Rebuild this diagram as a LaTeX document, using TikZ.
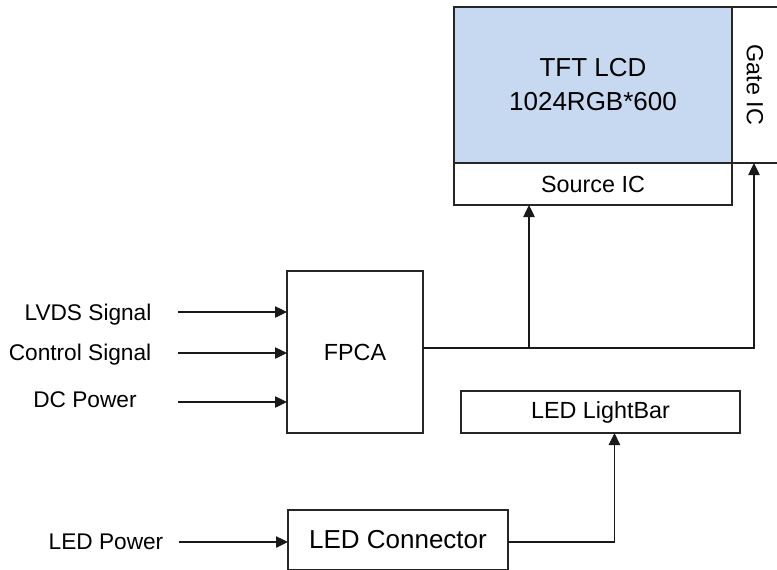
\documentclass[tikz,border=0pt]{standalone}
\usepackage{fontspec}
\setmainfont{Liberation Sans}
\usepackage{tikz}
\usetikzlibrary{arrows.meta,positioning,calc}
\usepackage{xcolor}
\definecolor{panelblue}{RGB}{198,217,240}

\begin{document}
\begin{tikzpicture}[x=0.75pt, y=-0.75pt,
    blk/.style={draw=black!85, line width=1pt, inner sep=0pt, outer sep=0pt,
        font=\fontsize{17.5}{21}\selectfont, align=center},
    lbl/.style={font=\fontsize{17}{20}\selectfont, inner sep=0pt},
    arr/.style={-{Triangle[length=9pt, width=8.5pt]}, line width=1pt, draw=black!90},
    wire/.style={line width=1pt, draw=black!90}]
    \useasboundingbox (0,0) rectangle (777,569);

    % LCD panel with its driver ICs
    \node[blk, fill=panelblue, minimum width=208.5pt, minimum height=117pt,
        font=\fontsize{19.5}{25.5}\selectfont] (lcd) at (593,85) {TFT LCD\\1024RGB*600};
    \node[blk, minimum width=208.5pt, minimum height=31.5pt] (src) at (593,184) {Source IC};
    \node[blk, rotate=-90, minimum width=117pt, minimum height=34.5pt] (gate) at (755,85) {Gate IC};

    % FPCA and backlight blocks
    \node[blk, minimum width=102pt, minimum height=121.5pt] (fpca) at (355,352) {FPCA};
    \node[blk, minimum width=209.25pt, minimum height=31.5pt] (lightbar) at (600.5,412) {LED LightBar};
    \node[blk, minimum width=165pt, minimum height=45pt,
        font=\fontsize{19.5}{23}\selectfont] (ledconn) at (398,540) {LED Connector};

    % input labels
    \node[lbl] (lvds) at (88,315) {LVDS Signal};
    \node[lbl] (ctrl) at (80,355) {Control Signal};
    \node[lbl] (dcpwr) at (85,400) {DC Power};
    \node[lbl] (ledpwr) at (106,542) {LED Power};

    % free ends of the input arrows
    \coordinate (lvdsin) at (178,312);
    \coordinate (ctrlin) at (178,353);
    \coordinate (dcin) at (178,402);
    \coordinate (ledin) at (179,542);

    \draw[arr] (lvdsin) -- (fpca.west |- lvdsin);
    \draw[arr] (ctrlin) -- (fpca.west |- ctrlin);
    \draw[arr] (dcin) -- (fpca.west |- dcin);
    \draw[arr] (ledin) -- (ledconn.west |- ledin);

    % FPCA to source and gate IC (gate node is turned, its east is the bottom)
    \coordinate (split) at (529,348);
    \draw[wire] (fpca.east |- split) -- (split);
    \draw[arr] (split) -- (src.south -| split);
    \draw[arr] (split) -| ([xshift=-0.75pt]gate.east);

    % LED connector to light bar
    \draw[arr] (ledconn.east |- ledin) -| ($(lightbar.south west)!0.55!(lightbar.south east)$);
\end{tikzpicture}
\end{document}
